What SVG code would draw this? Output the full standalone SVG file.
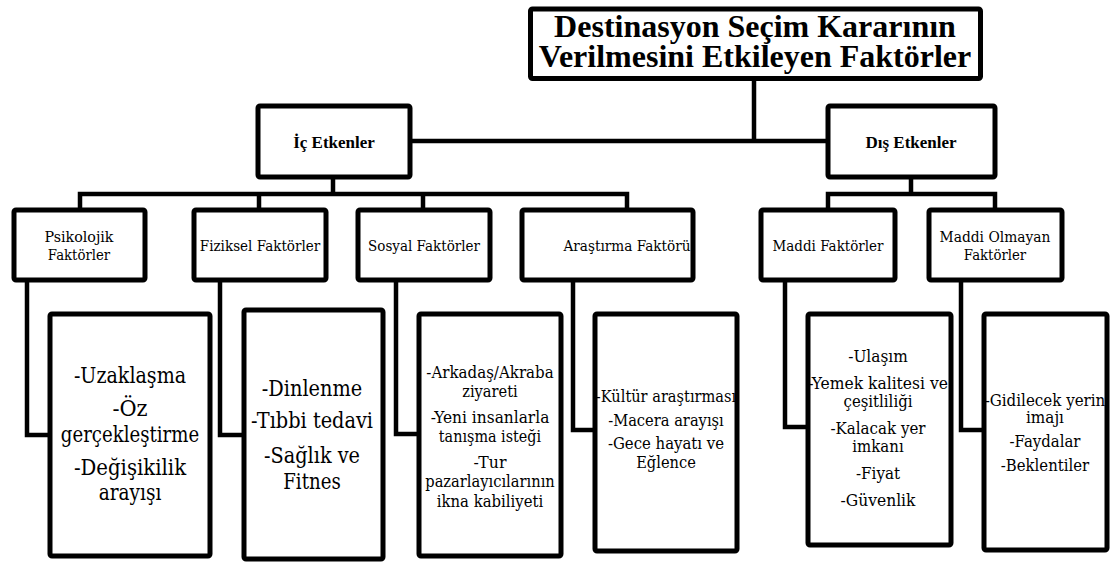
<svg xmlns="http://www.w3.org/2000/svg" width="1111" height="563" viewBox="0 0 1111 563" font-family="'Liberation Serif', 'Times New Roman', serif">
<style>
.box{fill:#fff;stroke:#000;stroke-width:5;stroke-linejoin:round}
.con{fill:none;stroke:#000;stroke-width:4.5;stroke-linejoin:miter;stroke-linecap:square}
text{fill:#000;text-anchor:middle}
.t0{font-size:32px;font-weight:bold}
.t1{font-size:17px;font-weight:bold}
.t2,.t3,.t4{font-family:"DejaVu Serif","Liberation Serif",serif}
.t2{font-size:15.5px}
.t3{font-size:21.4px}
.t4{font-size:16.8px}
</style>
<rect width="1111" height="563" fill="#fff"/>
<g id="connectors">
<path class="con" d="M754,78 V141 M412,141 H826"/>
<path class="con" d="M333,179 V194 M80,208 V194 H627 V208 M259,194 V208 M423,194 V208"/>
<path class="con" d="M911,179 V194 M828,208 V194 H995 V208"/>
<path class="con" d="M27,282 V435 H48"/>
<path class="con" d="M220,282 V435 H242"/>
<path class="con" d="M396,282 V434 H417"/>
<path class="con" d="M573,282 V430 H593"/>
<path class="con" d="M785,282 V427 H806"/>
<path class="con" d="M961,282 V430 H982"/>
</g>
<g id="title">
<rect class="box" x="530.500" y="9" width="450" height="69.500" rx="2"/>
<text class="t0" x="755" y="37">Destinasyon Seçim Kararının</text>
<text class="t0" x="755" y="67">Verilmesini Etkileyen Faktörler</text>
</g>
<g id="ic">
<rect class="box" x="258" y="106" width="152" height="71" rx="2"/>
<text class="t1" x="334" y="148">İç Etkenler</text>
</g>
<g id="dis">
<rect class="box" x="828" y="106" width="167" height="71" rx="2"/>
<text class="t1" x="911" y="148">Dış Etkenler</text>
</g>
<g id="psikolojik">
<rect class="box" x="14" y="210" width="131" height="70" rx="2"/>
<text class="t2" x="79" y="242" textLength="69" lengthAdjust="spacingAndGlyphs">Psikolojik</text>
<text class="t2" x="79" y="260" textLength="62.3" lengthAdjust="spacingAndGlyphs">Faktörler</text>
</g>
<g id="fiziksel">
<rect class="box" x="194" y="210" width="132" height="70" rx="2"/>
<text class="t2" x="260" y="251" textLength="120.4" lengthAdjust="spacingAndGlyphs">Fiziksel Faktörler</text>
</g>
<g id="sosyal">
<rect class="box" x="358" y="210" width="132" height="70" rx="2"/>
<text class="t2" x="424" y="251" textLength="111.9" lengthAdjust="spacingAndGlyphs">Sosyal Faktörler</text>
</g>
<g id="arastirma">
<rect class="box" x="522" y="210" width="171" height="70" rx="2"/>
<text class="t2" x="627" y="251" textLength="127" lengthAdjust="spacingAndGlyphs">Araştırma Faktörü</text>
</g>
<g id="maddi">
<rect class="box" x="761" y="210" width="134" height="70" rx="2"/>
<text class="t2" x="828" y="251" textLength="111" lengthAdjust="spacingAndGlyphs">Maddi Faktörler</text>
</g>
<g id="maddiolmayan">
<rect class="box" x="929" y="210" width="133" height="70" rx="2"/>
<text class="t2" x="995" y="242" textLength="111" lengthAdjust="spacingAndGlyphs">Maddi Olmayan</text>
<text class="t2" x="995" y="260" textLength="62.3" lengthAdjust="spacingAndGlyphs">Faktörler</text>
</g>
<g id="d-psikolojik">
<rect class="box" x="50" y="314" width="160" height="242" rx="2"/>
<text class="t3" x="130" y="383" textLength="112.2" lengthAdjust="spacingAndGlyphs">-Uzaklaşma</text>
<text class="t3" x="130" y="416" textLength="35.2" lengthAdjust="spacingAndGlyphs">-Öz</text>
<text class="t3" x="130" y="442" textLength="138.3" lengthAdjust="spacingAndGlyphs">gerçekleştirme</text>
<text class="t3" x="130" y="475" textLength="112.2" lengthAdjust="spacingAndGlyphs">-Değişikilik</text>
<text class="t3" x="130" y="500" textLength="62.7" lengthAdjust="spacingAndGlyphs">arayışı</text>
</g>
<g id="d-fiziksel">
<rect class="box" x="244" y="310" width="139" height="249" rx="2"/>
<text class="t3" x="312" y="396" textLength="100.5" lengthAdjust="spacingAndGlyphs">-Dinlenme</text>
<text class="t3" x="312" y="428" textLength="122.1" lengthAdjust="spacingAndGlyphs">-Tıbbi tedavi</text>
<text class="t3" x="312" y="463" textLength="96" lengthAdjust="spacingAndGlyphs">-Sağlık ve</text>
<text class="t3" x="312" y="489" textLength="57.5" lengthAdjust="spacingAndGlyphs">Fitnes</text>
</g>
<g id="d-sosyal">
<rect class="box" x="419" y="314" width="142" height="242" rx="2"/>
<text class="t4" x="490" y="378" textLength="127.4" lengthAdjust="spacingAndGlyphs">-Arkadaş/Akraba</text>
<text class="t4" x="490" y="397" textLength="55.5" lengthAdjust="spacingAndGlyphs">ziyareti</text>
<text class="t4" x="490" y="423" textLength="118.7" lengthAdjust="spacingAndGlyphs">-Yeni insanlarla</text>
<text class="t4" x="490" y="442" textLength="102.3" lengthAdjust="spacingAndGlyphs">tanışma isteği</text>
<text class="t4" x="490" y="468" textLength="32.9" lengthAdjust="spacingAndGlyphs">-Tur</text>
<text class="t4" x="490" y="487" textLength="129.5" lengthAdjust="spacingAndGlyphs">pazarlayıcılarının</text>
<text class="t4" x="490" y="507" textLength="106.4" lengthAdjust="spacingAndGlyphs">ikna kabiliyeti</text>
</g>
<g id="d-arastirma">
<rect class="box" x="595" y="314" width="142" height="237" rx="2"/>
<text class="t4" x="666" y="402" textLength="140.3" lengthAdjust="spacingAndGlyphs">-Kültür araştırması</text>
<text class="t4" x="666" y="426" textLength="115.6" lengthAdjust="spacingAndGlyphs">-Macera arayışı</text>
<text class="t4" x="666" y="449" textLength="116.1" lengthAdjust="spacingAndGlyphs">-Gece hayatı ve</text>
<text class="t4" x="666" y="468" textLength="59.6" lengthAdjust="spacingAndGlyphs">Eğlence</text>
</g>
<g id="d-maddi">
<rect class="box" x="808" y="314" width="143" height="231" rx="2"/>
<text class="t4" x="878" y="362" textLength="59.6" lengthAdjust="spacingAndGlyphs">-Ulaşım</text>
<text class="t4" x="878" y="389" textLength="139.7" lengthAdjust="spacingAndGlyphs">-Yemek kalitesi ve</text>
<text class="t4" x="878" y="407" textLength="68.9" lengthAdjust="spacingAndGlyphs">çeşitliliği</text>
<text class="t4" x="878" y="434" textLength="95" lengthAdjust="spacingAndGlyphs">-Kalacak yer</text>
<text class="t4" x="878" y="452" textLength="51.4" lengthAdjust="spacingAndGlyphs">imkanı</text>
<text class="t4" x="878" y="479" textLength="44.2" lengthAdjust="spacingAndGlyphs">-Fiyat</text>
<text class="t4" x="878" y="506" textLength="75" lengthAdjust="spacingAndGlyphs">-Güvenlik</text>
</g>
<g id="d-maddiolmayan">
<rect class="box" x="984" y="314" width="123" height="236" rx="2"/>
<text class="t4" x="1045" y="406" textLength="120.7" lengthAdjust="spacingAndGlyphs">-Gidilecek yerin</text>
<text class="t4" x="1045" y="423" textLength="38" lengthAdjust="spacingAndGlyphs">imajı</text>
<text class="t4" x="1045" y="447" textLength="70.9" lengthAdjust="spacingAndGlyphs">-Faydalar</text>
<text class="t4" x="1045" y="471" textLength="88.4" lengthAdjust="spacingAndGlyphs">-Beklentiler</text>
</g>
</svg>
